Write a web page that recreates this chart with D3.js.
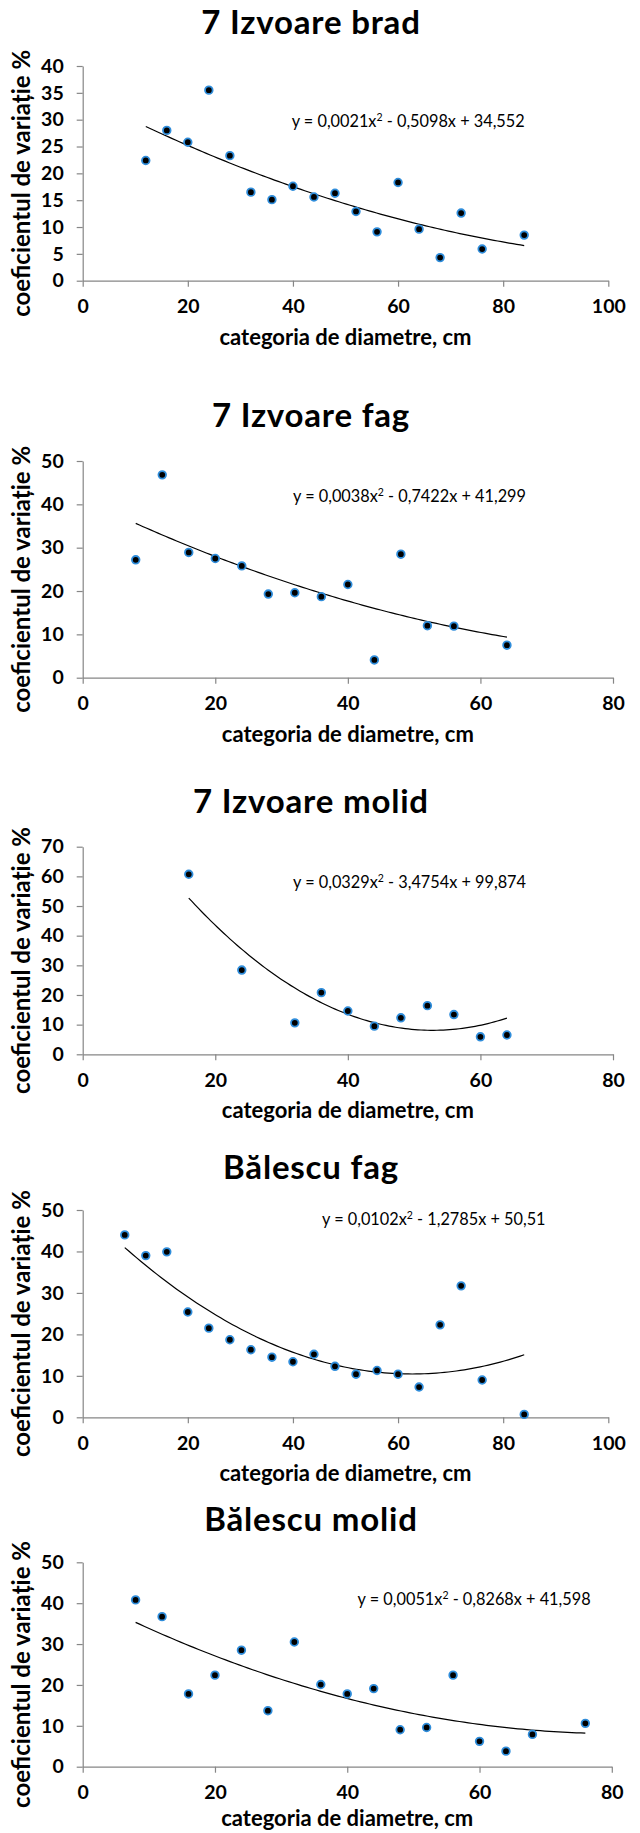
<!DOCTYPE html>
<html><head><meta charset="utf-8">
<script src="https://cdn.jsdelivr.net/npm/d3@7"></script>
<style>body{margin:0;background:#fff}svg{display:block}</style>
</head><body>
<svg id="c" width="640" height="1833"></svg>
<script>
// ---------- DATA ----------
const titles = ["7 Izvoare brad", "7 Izvoare fag", "7 Izvoare molid", "Bălescu fag", "Bălescu molid"];
const xAxisTitle = "categoria de diametre, cm";
const yAxisTitle = "coeficientul de variație %";

const xBrad = [12, 16, 20, 24, 28, 32, 36, 40, 44, 48, 52, 56, 60, 64, 68, 72, 76, 84];
const yBrad = [22.4, 28.0, 25.8, 35.5, 23.3, 16.5, 15.1, 17.6, 15.6, 16.3, 12.9, 9.1, 18.3, 9.6, 4.3, 12.6, 5.9, 8.5];

const xFag7 = [8, 12, 16, 20, 24, 28, 32, 36, 40, 44, 48, 52, 56, 64];
const yFag7 = [27.2, 46.8, 28.9, 27.5, 25.8, 19.3, 19.6, 18.7, 21.5, 4.1, 28.5, 12.0, 11.9, 7.5];

const xMolid7 = [16, 24, 32, 36, 40, 44, 48, 52, 56, 60, 64];
const yMolid7 = [60.7, 28.4, 10.6, 20.8, 14.6, 9.5, 12.3, 16.4, 13.4, 5.9, 6.5];

const xFagB = [8, 12, 16, 20, 24, 28, 32, 36, 40, 44, 48, 52, 56, 60, 64, 68, 72, 76, 84];
const yFagB = [44.0, 39.0, 39.9, 25.4, 21.5, 18.7, 16.3, 14.5, 13.4, 15.2, 12.3, 10.4, 11.3, 10.4, 7.3, 22.3, 31.7, 9.0, 0.7];

const xMolidB = [8, 12, 16, 20, 24, 28, 32, 36, 40, 44, 48, 52, 56, 60, 64, 68, 76];
const yMolidB = [40.8, 36.7, 17.8, 22.4, 28.5, 13.7, 30.5, 20.1, 17.8, 19.1, 9.05, 9.6, 22.4, 6.2, 3.8, 7.9, 10.6];

// polynomial trendline coefficients [a, b, c] for y = a x^2 + b x + c (as printed on the chart)
const trendBrad = [0.0021, -0.5098, 34.552];
const trendFag7 = [0.0038, -0.7422, 41.299];
const trendMolid7 = [0.0329, -3.4754, 99.874];
const trendFagB = [0.0102, -1.2785, 50.51];
const trendMolidB = [0.0051, -0.8268, 41.598];

// equation labels: [before superscript, superscript, after]
const eqLabels = [
  ["y = 0,0021x", "2", " - 0,5098x + 34,552"],
  ["y = 0,0038x", "2", " - 0,7422x + 41,299"],
  ["y = 0,0329x", "2", " - 3,4754x + 99,874"],
  ["y = 0,0102x", "2", " - 1,2785x + 50,51"],
  ["y = 0,0051x", "2", " - 0,8268x + 41,598"]
];

const xTicks100 = [0, 20, 40, 60, 80, 100];
const xTicks80 = [0, 20, 40, 60, 80];
const yTicksBrad = [0, 5, 10, 15, 20, 25, 30, 35, 40];
const yTicks50 = [0, 10, 20, 30, 40, 50];
const yTicks70 = [0, 10, 20, 30, 40, 50, 60, 70];

// ---------- LAYOUT (pixels) ----------
const layout = [
  {left: 82.7, right: 608.3, top: 66,    bottom: 280.7,  titleY: 34.3,   eqX: 291.7, eqY: 127.3, xtY: 345},
  {left: 82.7, right: 613,   top: 461,   bottom: 677.7,  titleY: 427.2,  eqX: 293,   eqY: 501.7, xtY: 742},
  {left: 82.7, right: 613,   top: 846.7, bottom: 1054.3, titleY: 813.2,  eqX: 293,   eqY: 888.3, xtY: 1118},
  {left: 82.7, right: 608.3, top: 1210,  bottom: 1417.3, titleY: 1178.8, eqX: 322,   eqY: 1225,  xtY: 1481},
  {left: 82.7, right: 611.8, top: 1562.3,bottom: 1766.7, titleY: 1530.5, eqX: 357.6, eqY: 1605,  xtY: 1826}
];

const charts = [
  {xs: xBrad,   ys: yBrad,   xTicks: xTicks100, yTicks: yTicksBrad, trend: trendBrad},
  {xs: xFag7,   ys: yFag7,   xTicks: xTicks80,  yTicks: yTicks50,   trend: trendFag7},
  {xs: xMolid7, ys: yMolid7, xTicks: xTicks80,  yTicks: yTicks70,   trend: trendMolid7},
  {xs: xFagB,   ys: yFagB,   xTicks: xTicks100, yTicks: yTicks50,   trend: trendFagB},
  {xs: xMolidB, ys: yMolidB, xTicks: xTicks80,  yTicks: yTicks50,   trend: trendMolidB}
];

const FONT = "Lato, 'Open Sans', 'DejaVu Sans', sans-serif";
const AXIS_COLOR = "#868686";
const svg = d3.select("#c");

charts.forEach((ch, i) => {
  const L = layout[i];
  const g = svg.append("g");
  const x = d3.scaleLinear().domain([0, d3.max(ch.xTicks)]).range([L.left, L.right]);
  const y = d3.scaleLinear().domain([0, d3.max(ch.yTicks)]).range([L.bottom, L.top]);

  // title
  g.append("text").attr("x", 311).attr("y", L.titleY)
    .attr("text-anchor", "middle").attr("font-family", FONT)
    .attr("font-weight", "bold").attr("font-size", 33).attr("letter-spacing", 0.8)
    .attr("fill", "#000").text(titles[i]);

  // axes
  const ax = g.append("g").attr("transform", `translate(0,${L.bottom})`)
    .call(d3.axisBottom(x).tickValues(ch.xTicks).tickSize(6).tickSizeOuter(0).tickPadding(12.5).tickFormat(d3.format("d")));
  const ay = g.append("g").attr("transform", `translate(${L.left},0)`)
    .call(d3.axisLeft(y).tickValues(ch.yTicks).tickSize(6).tickSizeOuter(0).tickPadding(13).tickFormat(d3.format("d")));
  [ax, ay].forEach(a => {
    a.selectAll("path.domain").attr("stroke", AXIS_COLOR).attr("stroke-width", 1.2);
    a.selectAll(".tick line").attr("stroke", AXIS_COLOR).attr("stroke-width", 1.2);
    a.selectAll(".tick text").attr("font-family", FONT).attr("font-weight", "bold")
      .attr("font-size", 19.5).attr("fill", "#000");
  });

  // axis titles
  g.append("text").attr("x", (L.left + L.right) / 2).attr("y", L.xtY)
    .attr("text-anchor", "middle").attr("font-family", FONT).attr("font-weight", "bold")
    .attr("font-size", 22).attr("fill", "#000").text(xAxisTitle);
  g.append("text").attr("transform", `translate(30,${(L.top + L.bottom) / 2 + 10}) rotate(-90)`)
    .attr("text-anchor", "middle").attr("font-family", FONT).attr("font-weight", "bold")
    .attr("font-size", 24).attr("fill", "#000").text(yAxisTitle);

  // trendline
  const [a, b, c] = ch.trend;
  const x0 = d3.min(ch.xs), x1 = d3.max(ch.xs);
  const samples = d3.range(0, 101).map(k => x0 + (x1 - x0) * k / 100);
  g.append("path").datum(samples)
    .attr("d", d3.line().x(d => x(d)).y(d => y(a * d * d + b * d + c)))
    .attr("fill", "none").attr("stroke", "#000").attr("stroke-width", 1.2);

  // markers
  g.selectAll("circle.pt").data(ch.xs.map((v, k) => [v, ch.ys[k]])).join("circle")
    .attr("class", "pt").attr("cx", d => x(d[0])).attr("cy", d => y(d[1]))
    .attr("r", 3.8).attr("fill", "#000").attr("stroke", "#2f8ddb").attr("stroke-width", 1.8);

  // equation label
  const eq = g.append("text").attr("x", L.eqX).attr("y", L.eqY)
    .attr("font-family", FONT).attr("font-size", 16.3).attr("fill", "#000");
  eq.append("tspan").text(eqLabels[i][0]);
  eq.append("tspan").attr("dy", -6).attr("font-size", 10.5).text(eqLabels[i][1]);
  eq.append("tspan").attr("dy", 6).text(eqLabels[i][2]);
});
</script>
</body></html>
